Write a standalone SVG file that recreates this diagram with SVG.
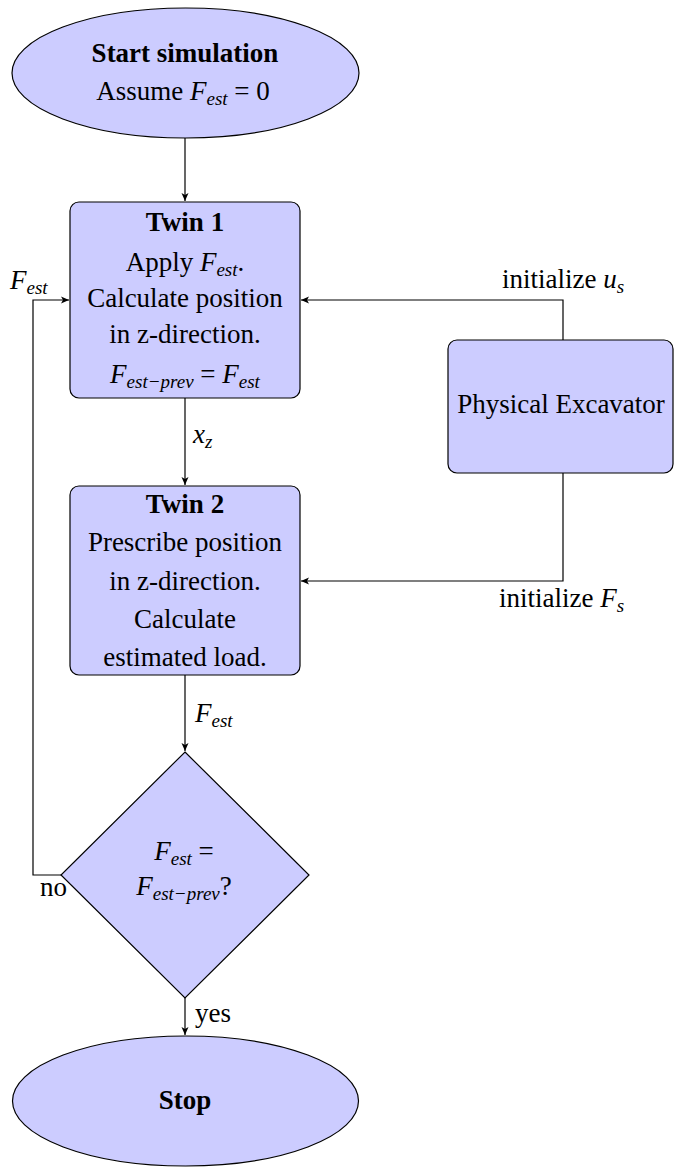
<svg xmlns="http://www.w3.org/2000/svg" width="674" height="1167" viewBox="0 0 674 1167">
<style>
.node{fill:#ccccff;stroke:#000;stroke-width:1.2}
.t{font-family:'Liberation Serif','Times New Roman',serif;font-size:27px;fill:#000}
.c{text-anchor:middle}
.b{font-weight:bold}
.i{font-style:italic}
.s{font-size:19px;font-style:italic}
.edge{fill:none;stroke:#000;stroke-width:1.2}
</style>
<defs>
<marker id="ah" markerUnits="userSpaceOnUse" markerWidth="10" markerHeight="8" refX="8" refY="4" orient="auto">
<path d="M0,0.5 L8,4 L0,7.5 L2,4 Z" fill="#000"/>
</marker>
</defs>
<g id="start">
<ellipse class="node" cx="185.5" cy="73" rx="173.5" ry="65"/>
<text class="t c b" x="185" y="62">Start simulation</text>
<text class="t c" x="183" y="100">Assume <tspan class="i">F</tspan><tspan class="s" dy="5">est</tspan><tspan dy="-5"> = 0</tspan></text>
</g>
<g id="twin1">
<rect class="node" x="70" y="202" width="230" height="196" rx="9"/>
<text class="t c b" x="185" y="231">Twin 1</text>
<text class="t c" x="185" y="271">Apply <tspan class="i">F</tspan><tspan class="s" dy="5">est</tspan><tspan dy="-5">.</tspan></text>
<text class="t c" x="185" y="307">Calculate position</text>
<text class="t c" x="185" y="343">in z-direction.</text>
<text class="t c" x="185" y="383"><tspan class="i">F</tspan><tspan class="s" dy="5">est−prev</tspan><tspan dy="-5"> = </tspan><tspan class="i">F</tspan><tspan class="s" dy="5">est</tspan></text>
</g>
<g id="twin2">
<rect class="node" x="70" y="486" width="230" height="189" rx="9"/>
<text class="t c b" x="185" y="513">Twin 2</text>
<text class="t c" x="185" y="551">Prescribe position</text>
<text class="t c" x="185" y="590">in z-direction.</text>
<text class="t c" x="185" y="628">Calculate</text>
<text class="t c" x="185" y="666">estimated load.</text>
</g>
<g id="excavator">
<rect class="node" x="448" y="340" width="225" height="133" rx="9"/>
<text class="t c" x="561" y="413">Physical Excavator</text>
</g>
<g id="decision">
<polygon class="node" points="185,752 309,875 185,998 61,875"/>
<text class="t c" x="184" y="860"><tspan class="i">F</tspan><tspan class="s" dy="5">est</tspan><tspan dy="-5"> =</tspan></text>
<text class="t c" x="184" y="895"><tspan class="i">F</tspan><tspan class="s" dy="5">est−prev</tspan><tspan dy="-5">?</tspan></text>
</g>
<g id="stop">
<ellipse class="node" cx="185.5" cy="1101" rx="173" ry="65"/>
<text class="t c b" x="185" y="1109">Stop</text>
</g>
<g id="connectors">
<path class="edge" d="M185,138 V201" marker-end="url(#ah)"/>
<path class="edge" d="M185,398 V485" marker-end="url(#ah)"/>
<path class="edge" d="M185,675 V751" marker-end="url(#ah)"/>
<path class="edge" d="M185,998 V1035" marker-end="url(#ah)"/>
<path class="edge" d="M61,875 H33 V300 H69" marker-end="url(#ah)"/>
<path class="edge" d="M563,340 V300 H301" marker-end="url(#ah)"/>
<path class="edge" d="M563,473 V581 H301" marker-end="url(#ah)"/>
<text class="t" x="10" y="289"><tspan class="i">F</tspan><tspan class="s" dy="5">est</tspan></text>
<text class="t" x="193" y="443"><tspan class="i">x</tspan><tspan class="s" dy="5">z</tspan></text>
<text class="t" x="195" y="722"><tspan class="i">F</tspan><tspan class="s" dy="5">est</tspan></text>
<text class="t" x="502" y="288">initialize <tspan class="i">u</tspan><tspan class="s" dy="5">s</tspan></text>
<text class="t" x="499" y="607">initialize <tspan class="i">F</tspan><tspan class="s" dy="5">s</tspan></text>
<text class="t" x="40" y="896">no</text>
<text class="t" x="195" y="1022">yes</text>
</g>
</svg>
